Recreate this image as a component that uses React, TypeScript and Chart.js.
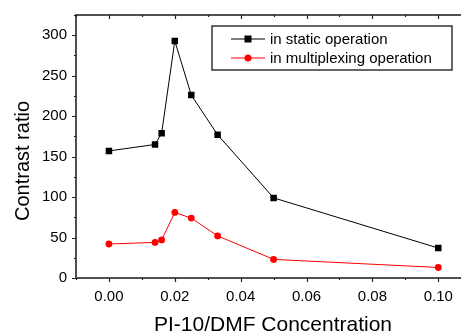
import React, { useEffect, useRef } from "react";
import { Chart, registerables } from "chart.js";

Chart.register(...registerables);

const concentrations = [0, 0.014, 0.016, 0.02, 0.025, 0.033, 0.05, 0.1];
const staticRatio = [157, 165, 179, 293, 226, 177, 99, 37];
const multiplexRatio = [42, 44, 47, 81, 74, 52, 23, 13];
const xTickValues = [0, 0.02, 0.04, 0.06, 0.08, 0.1];
const yTickValues = [0, 50, 100, 150, 200, 250, 300];
const seriesLabels = ["in static operation", "in multiplexing operation"];
const xTitle = "PI-10/DMF Concentration";
const yTitle = "Contrast ratio";

const FONT = '"Liberation Sans", Arial, sans-serif';
const AXIS = "#505050";

const framePlugin = {
  id: "frame",
  afterDraw(chart: any) {
    const { ctx, chartArea: a } = chart;
    const x = chart.scales.x;
    const y = chart.scales.y;
    ctx.save();
    const top = Math.round(a.top);
    const bottom = Math.round(a.bottom);
    const left = Math.round(a.left);
    ctx.fillStyle = AXIS;
    ctx.fillRect(left - 1, top - 1, 461 - left + 1, 2);
    ctx.fillRect(left - 1, top - 1, 2, bottom - top + 2);
    ctx.fillRect(left - 1, bottom - 1, 461 - left + 1, 2);

    ctx.strokeStyle = "#222";
    ctx.lineWidth = 1.2;
    ctx.beginPath();
    for (let i = -1; i <= 10; i++) {
      const px = Math.round(x.getPixelForValue(i / 100)) + 0.5;
      if (px < a.left - 1 || px > 461) continue;
      const len = i % 2 === 0 ? 4 : 2;
      ctx.moveTo(px, bottom);
      ctx.lineTo(px, bottom + len);
      ctx.moveTo(px, top);
      ctx.lineTo(px, top + len);
    }
    for (let v = 0; v <= 325; v += 25) {
      const py = Math.round(y.getPixelForValue(v)) + 0.5;
      const len = v % 50 === 0 ? 4 : 2;
      ctx.moveTo(left, py);
      ctx.lineTo(left - len, py);
    }
    ctx.stroke();

    // titles
    ctx.fillStyle = "#000";
    ctx.font = `21px ${FONT}`;
    ctx.textAlign = "center";
    ctx.textBaseline = "alphabetic";
    ctx.fillText(xTitle, 273, 331);
    ctx.save();
    ctx.translate(29, 161);
    ctx.rotate(-Math.PI / 2);
    ctx.font = `20px ${FONT}`;
    ctx.fillText(yTitle, 0, 0);
    ctx.restore();

    // legend
    const bx = 212, by = 26, bw = 240, bh = 44;
    ctx.strokeStyle = "#333";
    ctx.lineWidth = 1.5;
    ctx.strokeRect(bx, by, bw, bh);
    const rows = [39, 58];
    chart.data.datasets.forEach((ds: any, i: number) => {
      const ry = rows[i];
      ctx.strokeStyle = ds.borderColor;
      ctx.lineWidth = 1;
      ctx.beginPath();
      ctx.moveTo(231, ry);
      ctx.lineTo(265, ry);
      ctx.stroke();
      ctx.fillStyle = ds.pointBackgroundColor;
      if (ds.pointStyle === "rect") {
        ctx.fillRect(248 - 3.5, ry - 3.5, 7, 7);
      } else {
        ctx.beginPath();
        ctx.arc(248, ry, 3.5, 0, Math.PI * 2);
        ctx.fill();
      }
      ctx.fillStyle = "#000";
      ctx.font = `15px ${FONT}`;
      ctx.textAlign = "left";
      ctx.textBaseline = "middle";
      ctx.fillText(ds.label, 270, ry + 0.5);
    });
    ctx.restore();
  },
};

export default function App() {
  const ref = useRef<HTMLCanvasElement>(null);
  useEffect(() => {
    if (!ref.current) return;
    const chart = new Chart(ref.current, {
      type: "scatter",
      data: {
        datasets: [
          {
            label: seriesLabels[0],
            data: concentrations.map((c, i) => ({ x: c, y: staticRatio[i] })),
            showLine: true,
            borderColor: "#000000",
            backgroundColor: "#000000",
            pointBackgroundColor: "#000000",
            pointBorderColor: "#000000",
            borderWidth: 1,
            pointStyle: "rect",
            pointRadius: 4.6,
            pointBorderWidth: 0,
          },
          {
            label: seriesLabels[1],
            data: concentrations.map((c, i) => ({ x: c, y: multiplexRatio[i] })),
            showLine: true,
            borderColor: "#ff0000",
            backgroundColor: "#ff0000",
            pointBackgroundColor: "#ff0000",
            pointBorderColor: "#ff0000",
            borderWidth: 1,
            pointStyle: "circle",
            pointRadius: 3.4,
            pointBorderWidth: 0,
          },
        ],
      },
      options: {
        responsive: false,
        animation: false,
        layout: { padding: { top: 15, right: 0, left: 0, bottom: 0 } },
        plugins: { legend: { display: false }, tooltip: { enabled: false } },
        scales: {
          x: {
            type: "linear",
            min: -0.01,
            max: 0.1055,
            grid: { display: false, drawTicks: false, tickLength: 0 },
            border: { display: false },
            afterBuildTicks: (s: any) => {
              s.ticks = xTickValues.map((v) => ({ value: v }));
            },
            afterFit: (s: any) => {
              s.height = 55;
              s.paddingLeft = 0;
              s.paddingRight = 0;
            },
            ticks: {
              padding: 10,
              color: "#000",
              font: { family: FONT, size: 15 },
              callback: (v: any) => Number(v).toFixed(2),
            },
          },
          y: {
            type: "linear",
            min: 0,
            max: 325,
            grid: { display: false, drawTicks: false, tickLength: 0 },
            border: { display: false },
            afterBuildTicks: (s: any) => {
              s.ticks = yTickValues.map((v) => ({ value: v }));
            },
            afterFit: (s: any) => {
              s.width = 76;
              s.paddingTop = 0;
              s.paddingBottom = 0;
            },
            ticks: {
              padding: 9,
              color: "#000",
              font: { family: FONT, size: 15 },
              callback: (v: any) => String(v),
            },
          },
        },
      },
      plugins: [framePlugin],
    });
    return () => chart.destroy();
  }, []);
  return (
    <div style={{ position: "absolute", left: 0, top: 0, width: 461, height: 333, background: "#fff" }}>
      <canvas ref={ref} width={461} height={333} />
    </div>
  );
}
